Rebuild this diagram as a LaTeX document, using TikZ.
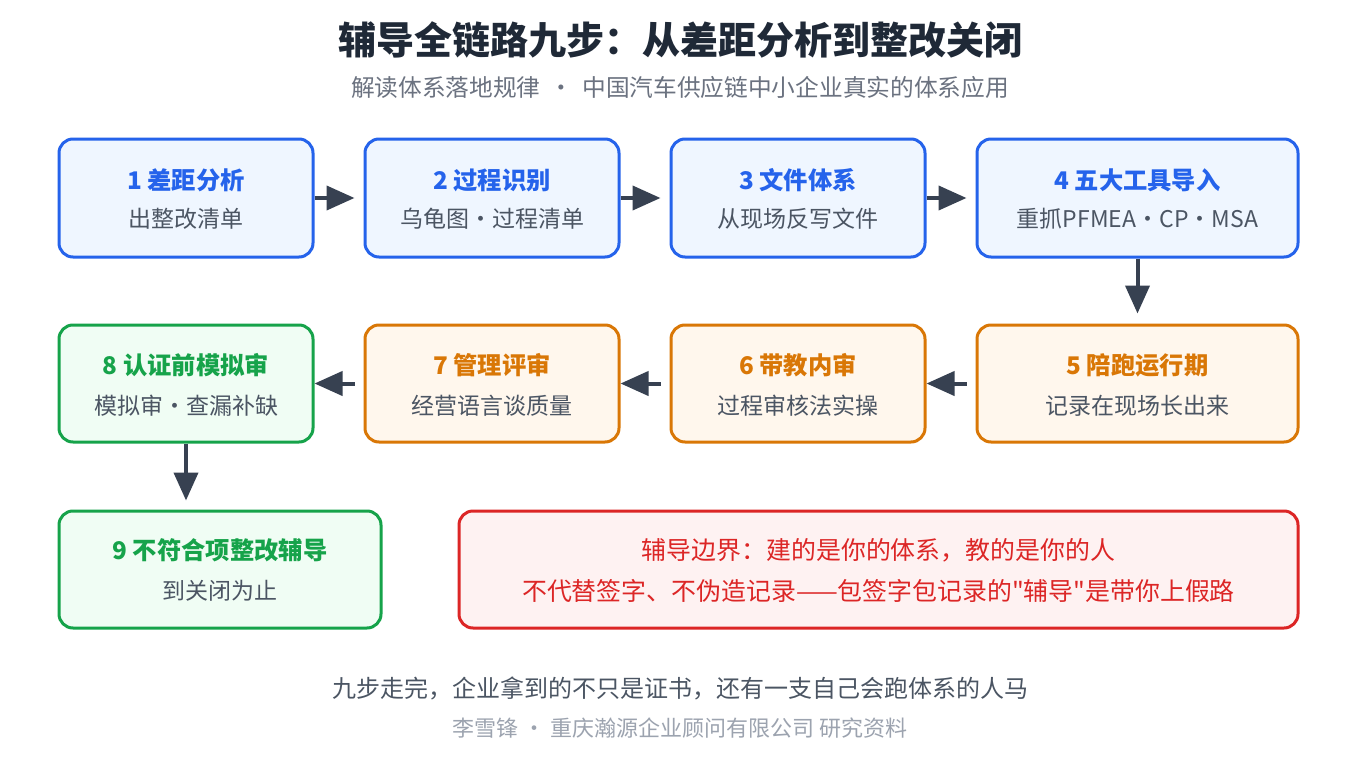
\documentclass[tikz,border=0pt]{standalone}
\usepackage{fontspec}
\setmainfont{Noto Sans CJK SC}
\newfontfamily\rawcjk{Noto Sans CJK SC}
\usetikzlibrary{arrows.meta}
\definecolor{bluebd}{HTML}{2563EB}
\definecolor{bluebg}{HTML}{EFF6FF}
\definecolor{orabd}{HTML}{D97706}
\definecolor{orabg}{HTML}{FFF7ED}
\definecolor{grnbd}{HTML}{16A34A}
\definecolor{grnbg}{HTML}{F0FDF4}
\definecolor{redbd}{HTML}{DC2626}
\definecolor{redbg}{HTML}{FEF2F2}
\definecolor{arrowc}{HTML}{374151}
\definecolor{titlec}{HTML}{1F2937}
\definecolor{subc}{HTML}{6B7280}
\definecolor{bodyc}{HTML}{4B5563}
\definecolor{footc}{HTML}{9CA3AF}
\newcommand{\fs}[1]{\fontsize{#1pt}{#1pt}\selectfont}
\tikzset{
  stepbox/.style={draw, rounded corners=14pt, line width=3pt, inner sep=0pt},
  bluebox/.style={stepbox, draw=bluebd, fill=bluebg},
  orabox/.style={stepbox, draw=orabd, fill=orabg},
  grnbox/.style={stepbox, draw=grnbd, fill=grnbg},
  redbox/.style={stepbox, draw=redbd, fill=redbg},
  ttl/.style={font=\fs{24.3}\bfseries, inner sep=0pt, anchor=center},
  sub/.style={font=\fs{23}, text=bodyc, inner sep=0pt, anchor=center},
  warntext/.style={font=\rawcjk\fs{24.9}, text=redbd, inner sep=0pt, anchor=center},
  flow/.style={draw=arrowc, line width=4pt, -{Triangle[length=28pt,width=24pt]}},
}
\begin{document}
\begin{tikzpicture}[x=1pt,y=-1pt]
\useasboundingbox (0,0) rectangle (1360,760);
\fill[white] (0,0) rectangle (1360,760);
% title
\node[font=\fs{38}\bfseries, text=titlec, inner sep=0pt] (title) at (680,40) {辅导全链路九步：从差距分析到整改关闭};
\node[font=\fs{23.7}, text=subc, inner sep=0pt] (subtitle) at (680,87) {解读体系落地规律\hspace{9pt}・\hspace{9pt}中国汽车供应链中小企业真实的体系应用};
% row 1
\node[bluebox, minimum width=254pt, minimum height=118pt] (b1) at (186,198) {};
\node[bluebox, minimum width=254pt, minimum height=118pt] (b2) at (492,198) {};
\node[bluebox, minimum width=254pt, minimum height=118pt] (b3) at (798,198) {};
\node[bluebox, minimum width=321pt, minimum height=118pt] (b4) at (1137.5,198) {};
% row 2
\node[grnbox, minimum width=254pt, minimum height=117pt] (b8) at (186,383.5) {};
\node[orabox, minimum width=254pt, minimum height=117pt] (b7) at (492,383.5) {};
\node[orabox, minimum width=254pt, minimum height=117pt] (b6) at (798,383.5) {};
\node[orabox, minimum width=321pt, minimum height=117pt] (b5) at (1137.5,383.5) {};
% row 3
\node[grnbox, minimum width=322pt, minimum height=117pt] (b9) at (220,569.5) {};
\node[redbox, minimum width=839pt, minimum height=117pt] (warn) at (878.5,569.5) {};
% texts row 1
\node[ttl, text=bluebd] (t1) at (186,180) {1 差距分析};
\node[sub] (s1) at (186,219) {出整改清单};
\node[ttl, text=bluebd] (t2) at (492,180) {2 过程识别};
\node[sub] (s2) at (492,219) {乌龟图・过程清单};
\node[ttl, text=bluebd] (t3) at (798,180) {3 文件体系};
\node[sub] (s3) at (798,219) {从现场反写文件};
\node[ttl, text=bluebd] (t4) at (1137.5,180) {4 五大工具导入};
\node[sub] (s4) at (1137.5,219) {重抓PFMEA・CP・MSA};
% texts row 2
\node[ttl, text=grnbd] (t8) at (186,365) {8 认证前模拟审};
\node[sub] (s8) at (186,406) {模拟审・查漏补缺};
\node[ttl, text=orabd] (t7) at (492,365) {7 管理评审};
\node[sub] (s7) at (492,406) {经营语言谈质量};
\node[ttl, text=orabd] (t6) at (798,365) {6 带教内审};
\node[sub] (s6) at (798,406) {过程审核法实操};
\node[ttl, text=orabd] (t5) at (1137.5,365) {5 陪跑运行期};
\node[sub] (s5) at (1137.5,406) {记录在现场长出来};
% texts row 3
\node[ttl, text=grnbd] (t9) at (220,550) {9 不符合项整改辅导};
\node[sub] (s9) at (220,591) {到关闭为止};
\node[warntext] (w1) at (878.5,550) {辅导边界：建的是你的体系，教的是你的人};
\node[warntext] (w2) at (878.5,591) {不代替签字、不伪造记录——包签字包记录的"辅导"是带你上假路};
% footer
\node[font=\fs{24}, text=bodyc, inner sep=0pt] (f1) at (680,688) {九步走完，企业拿到的不只是证书，还有一支自己会跑体系的人马};
\node[font=\fs{22}, text=footc, inner sep=0pt] (f2) at (680,728) {李雪锋\hspace{5pt}・\hspace{5pt}重庆瀚源企业顾问有限公司 研究资料};
% arrows
\coordinate (a9) at ([yshift=9pt]b8.south |- b9.north);
\draw[flow] (b1.east) -- ([xshift=-9pt]b2.west);
\draw[flow] (b2.east) -- ([xshift=-9pt]b3.west);
\draw[flow] (b3.east) -- ([xshift=-9pt]b4.west);
\draw[flow] (b4.south) -- ([yshift=10pt]b5.north);
\draw[flow] ([xshift=-9pt]b5.west) -- (b6.east);
\draw[flow] ([xshift=-9pt]b6.west) -- (b7.east);
\draw[flow] ([xshift=-9pt]b7.west) -- (b8.east);
\draw[flow] (b8.south) -- (a9);
\end{tikzpicture}
\end{document}
